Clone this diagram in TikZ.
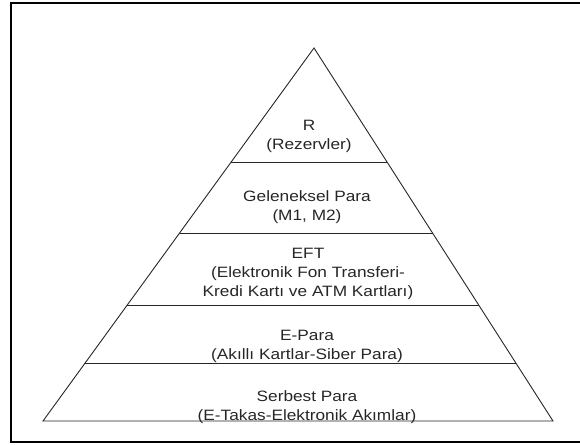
\documentclass[tikz,border=0pt]{standalone}
\usepackage{fontspec}
\setmainfont{Liberation Sans}[FakeStretch=1.15]
\usetikzlibrary{calc}
\begin{document}
\begin{tikzpicture}[x=1pt,y=-1pt,
  frameline/.style={draw=black,line width=1.6pt},
  pyrline/.style={draw=black!85,line width=0.9pt,line join=miter},
  layertext/.style={align=center,inner sep=0pt,font=\fontsize{15}{19}\selectfont,text=black!85}]
\useasboundingbox (0,0) rectangle (580,444);
% outer frame (right side not shown in the reference)
\coordinate (ftr) at (581,3);
\coordinate (ftl) at (11,3);
\coordinate (fbl) at (11,442);
\coordinate (fbr) at (581,442);
\draw[frameline] (ftr) -- (ftl) -- (fbl) -- (fbr);
% pyramid
\coordinate (apex) at (314,48);
\coordinate (bl) at (43,421);
\coordinate (br) at (553,421);
\draw[pyrline] (apex) -- (bl) -- (br) -- cycle;
\foreach \n/\y in {a/162,b/233,c/305,d/363}{
  \coordinate (l\n) at ($(apex)!{(\y-48)/373}!(bl)$);
  \coordinate (r\n) at ($(apex)!{(\y-48)/373}!(br)$);
  \draw[pyrline] (l\n) -- (r\n);
}
% texts
\node[layertext] (t1) at (309,136) {R\\(Rezervler)};
\node[layertext] (t2) at (307,207) {Geleneksel Para\\(M1, M2)};
\node[layertext] (t3) at (308,274) {EFT\\(Elektronik Fon Transferi-\\Kredi Kartı ve ATM Kartları)};
\node[layertext] (t4) at (307,346) {E-Para\\(Akıllı Kartlar-Siber Para)};
\node[layertext] (t5) at (307,407) {Serbest Para\\(E-Takas-Elektronik Akımlar)};
\end{tikzpicture}
\end{document}
